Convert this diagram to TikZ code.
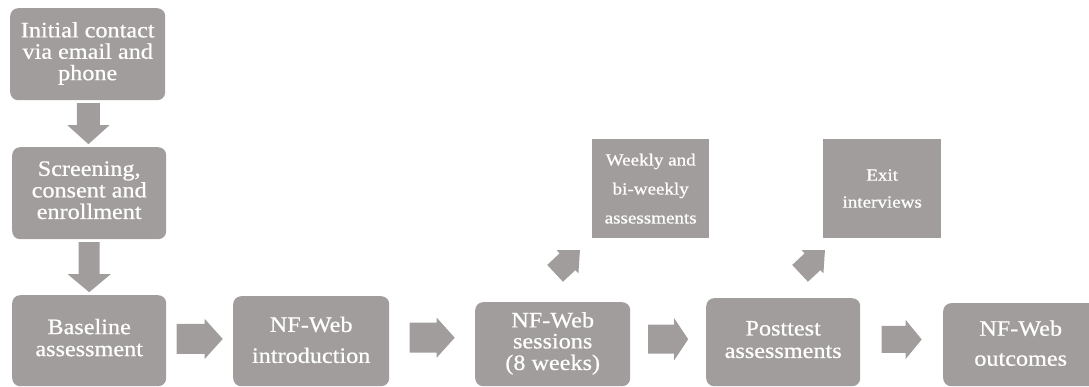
\documentclass[tikz,border=0pt]{standalone}
\usepackage{fontspec}
\setmainfont{Liberation Serif}[FakeBold=0.6]
\usepackage{graphicx}
\usetikzlibrary{calc}
\definecolor{boxgray}{RGB}{161,157,156}
\newcommand{\wtxt}[4]{\fontsize{#1}{#2}\selectfont\scalebox{#3}[1]{\begin{tabular}{@{}c@{}}#4\end{tabular}}}
\tikzset{
  pics/barrow/.style n args={4}{code={
    \fill[boxgray] (-#1/2,-#2/2) -- (#1/2-#4,-#2/2) -- (#1/2-#4,-#3/2) -- (#1/2,0)
      -- (#1/2-#4,#3/2) -- (#1/2-#4,#2/2) -- (-#1/2,#2/2) -- cycle;}},
  box/.style={fill=boxgray, rounded corners=8pt, inner sep=0pt, anchor=north west, text=white},
  sqbox/.style={fill=boxgray, inner sep=0pt, anchor=north west, text=white}
}
\begin{document}
\begin{tikzpicture}[x=1pt,y=-1pt]
\useasboundingbox (0,0) rectangle (1089,387);
\clip (0,0) rectangle (1089,387);
% boxes
\node[box, minimum width=155pt, minimum height=92pt] (init) at (10,8) {\wtxt{22}{20.5}{1.1}{Initial contact\\via email and\\phone}};
\node[box, minimum width=154pt, minimum height=92pt] (screen) at (12,147) {\wtxt{22}{21}{1.1}{Screening,\\consent and\\enrollment}};
\node[box, minimum width=154pt, minimum height=91pt] (base) at (12,295) {\wtxt{22}{22}{1.1}{Baseline\\assessment}};
\node[box, minimum width=156pt, minimum height=90pt] (intro) at (233,296) {\wtxt{22}{31}{1.1}{NF-Web\\introduction}};
\node[box, minimum width=155pt, minimum height=84pt] (sess) at (475,302) {\wtxt{22}{21}{1.1}{NF-Web\\sessions\\(8 weeks)}};
\node[box, minimum width=154pt, minimum height=88pt] (post) at (706,298) {\wtxt{22}{22.5}{1.1}{Posttest\\assessments}};
\node[box, minimum width=155pt, minimum height=83pt] (out) at (943,303) {\wtxt{22}{30}{1.1}{NF-Web\\outcomes}};
\node[sqbox, minimum width=117pt, minimum height=99pt] (weekly) at (592,139) {\wtxt{17}{29}{1.12}{Weekly and\\bi-weekly\\assessments}};
\node[sqbox, minimum width=118pt, minimum height=99pt] (exit) at (823,139) {\wtxt{17}{27}{1.12}{Exit\\interviews}};
% block arrows
\pic[rotate=-90] at ($(init.south)!0.5!(screen.north)$) {barrow={41}{23}{42}{19}};
\pic[rotate=-90] at ($(screen.south)!0.5!(base.north)$) {barrow={50}{21}{43}{18}};
\pic at ($(base.east)!0.5!(intro.west)+(0,-2)$) {barrow={46}{30}{40}{18}};
\pic at ($(intro.east)!0.5!(sess.west)+(0,-5)$) {barrow={45}{30}{40}{18}};
\pic at ($(sess.east)!0.5!(post.west)+(0,-4)$) {barrow={40}{29}{42}{14}};
\pic at ($(post.east)!0.5!(out.west)+(0,-4)$) {barrow={40}{27}{39}{16}};
\pic[rotate=43] at (567.5,261.75) {barrow={34}{23}{32}{17}};
\pic[rotate=43] at (812.5,261.75) {barrow={34}{23}{32}{17}};
\end{tikzpicture}
\end{document}
